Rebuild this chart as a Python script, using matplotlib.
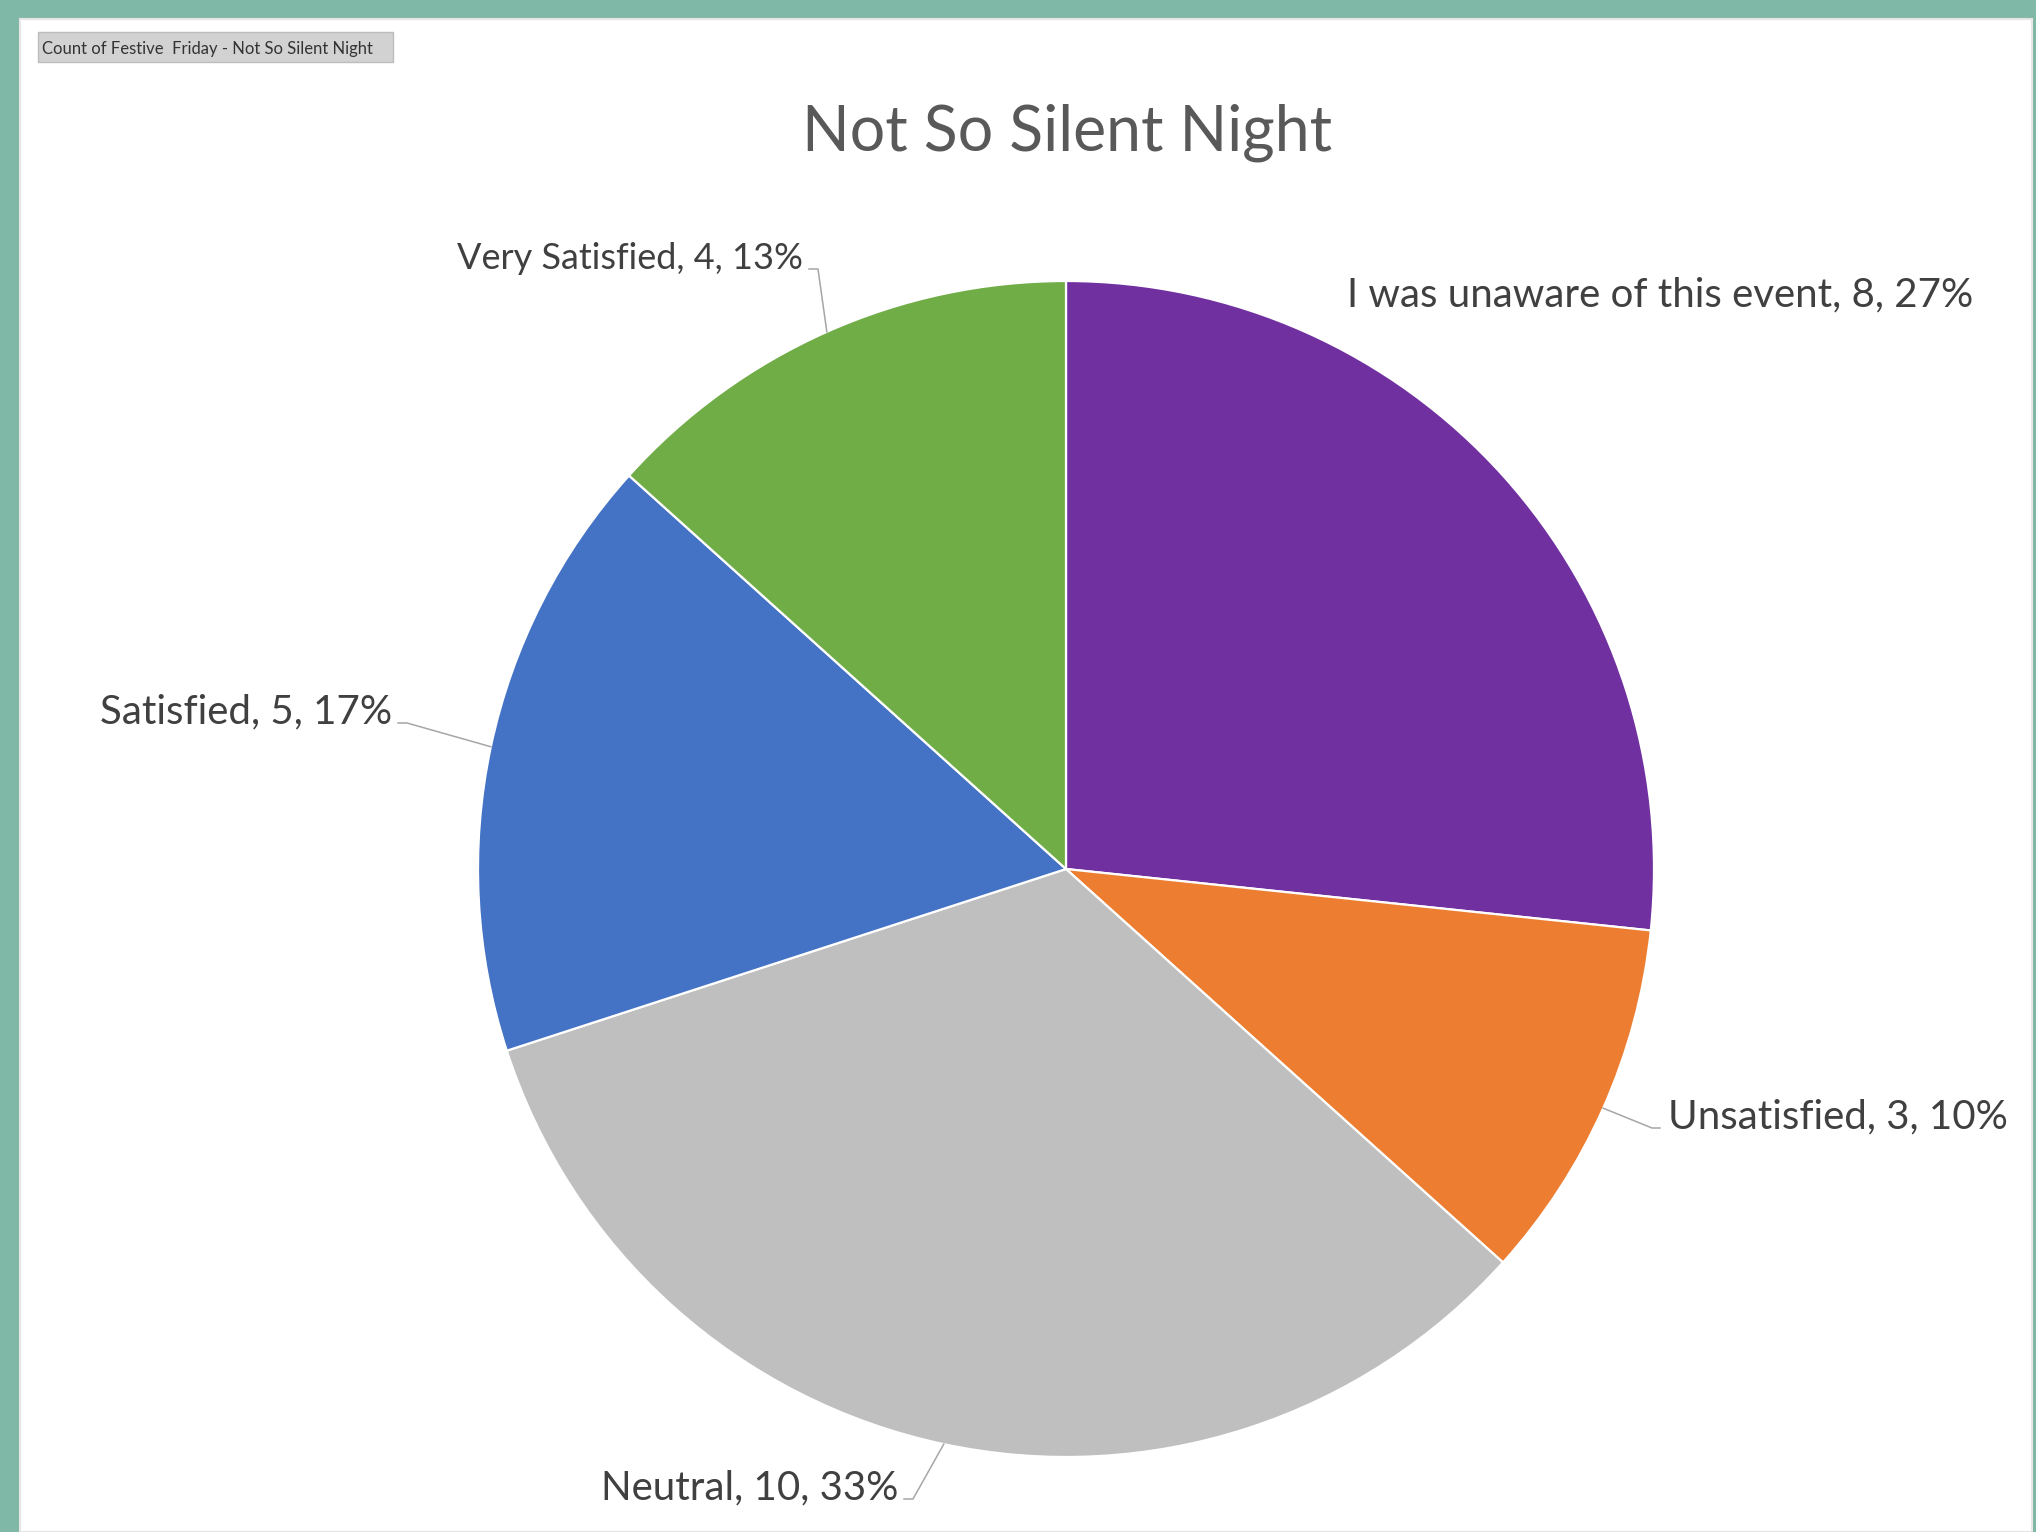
import numpy as np
import matplotlib.pyplot as plt
from matplotlib.patches import Rectangle

# --- Data ---
categories = ['I was unaware of this event', 'Unsatisfied', 'Neutral',
              'Satisfied', 'Very Satisfied']
counts = [8, 3, 10, 5, 4]
colors = ['#7030a0', '#ed7d31', '#bfbfbf', '#4472c4', '#70ad47']
title = 'Not So Silent Night'
field_button = 'Count of Festive  Friday - Not So Silent Night'

# --- Layout (pixel coords, y down) ---
W, H = 2036, 1532
CENTER = (1066, 869)
RADIUS = 588
# label anchor (x, baseline y, ha, font size, leader line?)
label_pos = [(1347, 306, 'left', 29, False),
             (1668, 1128, 'left', 29, True),
             (898, 1499, 'right', 29, True),
             (392, 723, 'right', 29, True),
             (803, 269, 'right', 26, True)]

plt.rcParams['font.family'] = ['Lato', 'DejaVu Sans']

fig = plt.figure(figsize=(W / 100, H / 100), dpi=100, facecolor='#80b8a8')
ax = fig.add_axes([0, 0, 1, 1])

# white sheet
ax.add_patch(Rectangle((20, 19), 2012, H - 19, facecolor='white',
                       edgecolor='#e6e6e6', linewidth=1.5, zorder=0))

# pie: y axis is inverted, so counterclock in data = clockwise on screen
wedges, _ = ax.pie(counts, colors=colors, center=CENTER, radius=RADIUS,
                   startangle=-90, counterclock=True,
                   wedgeprops=dict(edgecolor='white', linewidth=1.6))

total = sum(counts)
for w, cat, n, (lx, ly, ha, fs, leader) in zip(wedges, categories, counts, label_pos):
    pct = round(100 * n / total)
    ax.text(lx, ly, f'{cat}, {n}, {pct}%', ha=ha, va='baseline',
            fontsize=fs, color='#404040', zorder=5)
    if leader:
        mid = np.deg2rad((w.theta1 + w.theta2) / 2)
        px = CENTER[0] + RADIUS * np.cos(mid)
        py = CENTER[1] + RADIUS * np.sin(mid)
        if ha == 'left':
            xs = [px, lx - 16, lx - 8]
        else:
            xs = [px, lx + 15, lx + 6]
        ax.plot(xs, [py, ly, ly], color='#a6a6a6', linewidth=1.1, zorder=4)

ax.text(1067, 150, title, ha='center', va='baseline', fontsize=45,
        color='#595959')

# pivot field button
ax.add_patch(Rectangle((38, 32), 355, 30, facecolor='#d2d2d2',
                       edgecolor='#bdbdbd', linewidth=1, zorder=3))
ax.text(42, 54, field_button, ha='left', va='baseline', fontsize=12,
        color='#333333', zorder=4)

ax.set_xlim(0, W)
ax.set_ylim(H, 0)
ax.set_aspect('auto')
ax.axis('off')

fig.savefig('out.png', dpi=100, facecolor=fig.get_facecolor())
